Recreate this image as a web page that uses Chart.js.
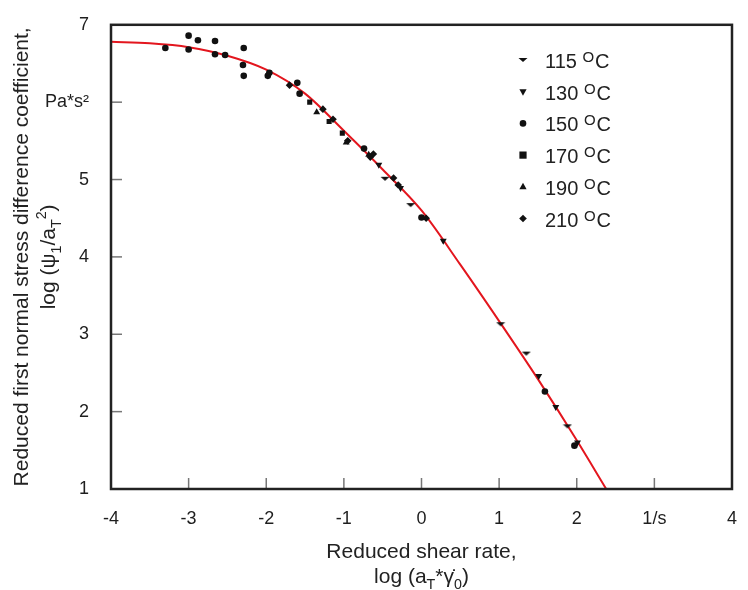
<!DOCTYPE html>
<html>
<head>
<meta charset="utf-8">
<script src="https://cdn.jsdelivr.net/npm/chart.js@4/dist/chart.umd.min.js"></script>
<style>
  html, body { margin: 0; padding: 0; background: #fff; }
  #wrap { width: 748px; height: 590px; }
</style>
</head>
<body>
<div id="wrap"><canvas id="chart"></canvas></div>
<script>
// --- data ---
const temps = ["115", "130", "150", "170", "190", "210"];

const x115 = [-0.47, -0.14, 1.02, 1.35, 1.88];
const y115 = [5.01, 4.67, 3.13, 2.75, 1.81];

const x130 = [-0.55, -0.27, 0.28, 1.51, 1.73, 2.01];
const y130 = [5.19, 4.89, 4.21, 2.46, 2.06, 1.60];

const x150 = [-3.30, -3.00, -3.00, -2.88, -2.66, -2.66, -2.53, -2.29, -2.30, -2.29, -1.98, -1.96, -1.60, -1.57, -0.74, 0.00, 1.59, 1.97];
const y150 = [6.70, 6.86, 6.68, 6.80, 6.79, 6.62, 6.61, 6.70, 6.48, 6.34, 6.34, 6.38, 6.25, 6.11, 5.40, 4.51, 2.26, 1.56];

const x170 = [-1.44, -1.19, -1.02];
const y170 = [6.00, 5.75, 5.60];

const x190 = [-1.35, -0.97, -0.68];
const y190 = [5.87, 5.48, 5.32];

const x210 = [-1.70, -1.27, -1.14, -0.95, -0.66, -0.62, -0.36, -0.30, 0.06];
const y210 = [6.22, 5.91, 5.78, 5.50, 5.29, 5.33, 5.02, 4.93, 4.50];

// fitted master curve
const xFit = [-4, -3.5, -3, -2.5, -2, -1.5, -1, -0.5, 0, 0.5, 1, 1.5, 2, 2.38];
const yFit = [6.78, 6.76, 6.71, 6.60, 6.42, 6.11, 5.63, 5.13, 4.60, 3.90, 3.17, 2.42, 1.63, 1.0];

const xTicks = [-4, -3, -2, -1, 0, 1, 2, 3, 4];
const xTickText = ["-4", "-3", "-2", "-1", "0", "1", "2", "1/s", "4"];
const yTicks = [1, 2, 3, 4, 5, 6, 7];
const yTickText = ["1", "2", "3", "4", "5", "Pa*s²", "7"];

const FONT = '"Liberation Sans", Arial, sans-serif';
const INK = "#1e1e1e";

// flat down-pointing marker used for 115 oC
function flatTri() {
  const c = document.createElement("canvas");
  c.width = 10; c.height = 6;
  const g = c.getContext("2d");
  g.fillStyle = "#111";
  g.beginPath();
  g.moveTo(0.5, 1); g.lineTo(9.5, 1); g.lineTo(5, 5); g.closePath();
  g.fill();
  return c;
}
const marker115 = flatTri();

const styles = [
  { pointStyle: marker115, rotation: 0, radius: 4 },
  { pointStyle: "triangle", rotation: 180, radius: 4 },
  { pointStyle: "circle", rotation: 0, radius: 3.3 },
  { pointStyle: "rect", rotation: 0, radius: 3.6 },
  { pointStyle: "triangle", rotation: 0, radius: 4 },
  { pointStyle: "rectRot", rotation: 0, radius: 3.8 }
];

function pts(xs, ys) {
  return xs.map((x, i) => ({ x: x, y: ys[i] }));
}

const seriesX = [x115, x130, x150, x170, x190, x210];
const seriesY = [y115, y130, y150, y170, y190, y210];

const datasets = temps.map((t, i) => ({
  label: t + " oC",
  data: pts(seriesX[i], seriesY[i]),
  pointStyle: styles[i].pointStyle,
  rotation: styles[i].rotation,
  pointRadius: styles[i].radius,
  backgroundColor: "#111",
  borderColor: "#111",
  borderWidth: 0,
  showLine: false,
  order: 1
}));

datasets.push({
  label: "fit",
  data: pts(xFit, yFit),
  showLine: true,
  borderColor: "#e3161e",
  borderWidth: 2,
  pointRadius: 0,
  cubicInterpolationMode: "monotone",
  order: 2
});

// draw text made of runs, with sub/superscripts
function richText(ctx, runs, x, y, size, align) {
  const widths = runs.map(r => {
    ctx.font = (r.sub || r.sup ? size * 0.68 : size) + "px " + FONT;
    return ctx.measureText(r.t).width;
  });
  const total = widths.reduce((a, b) => a + b, 0);
  let cx = align === "center" ? x - total / 2 : x;
  ctx.textBaseline = "alphabetic";
  ctx.textAlign = "left";
  runs.forEach((r, i) => {
    ctx.font = (r.sub || r.sup ? size * 0.68 : size) + "px " + FONT;
    let dy = 0;
    if (r.sub) dy = size * 0.28;
    if (r.sup) dy = -size * 0.42;
    ctx.fillText(r.t, cx, y + dy);
    cx += widths[i];
  });
}

function drawMarker(ctx, i, x, y) {
  ctx.save();
  ctx.fillStyle = "#111";
  ctx.translate(x, y);
  const s = styles[i];
  if (i === 0) {
    ctx.drawImage(marker115, -5, -3);
  } else if (s.pointStyle === "circle") {
    ctx.beginPath(); ctx.arc(0, 0, s.radius, 0, Math.PI * 2); ctx.fill();
  } else if (s.pointStyle === "rect") {
    ctx.fillRect(-s.radius, -s.radius, s.radius * 2, s.radius * 2);
  } else if (s.pointStyle === "rectRot") {
    ctx.beginPath();
    ctx.moveTo(0, -s.radius); ctx.lineTo(s.radius, 0); ctx.lineTo(0, s.radius); ctx.lineTo(-s.radius, 0);
    ctx.closePath(); ctx.fill();
  } else {
    const r = s.radius;
    ctx.rotate(s.rotation * Math.PI / 180);
    ctx.beginPath();
    ctx.moveTo(0, -r); ctx.lineTo(r * 0.9, r * 0.6); ctx.lineTo(-r * 0.9, r * 0.6);
    ctx.closePath(); ctx.fill();
  }
  ctx.restore();
}

const decor = {
  id: "decor",
  afterDraw(chart) {
    const { ctx, chartArea: a, scales } = chart;
    ctx.save();

    // inward tick marks
    ctx.strokeStyle = "#777";
    ctx.lineWidth = 1.5;
    xTicks.slice(1, -1).forEach(v => {
      const px = scales.x.getPixelForValue(v);
      ctx.beginPath(); ctx.moveTo(px, a.bottom); ctx.lineTo(px, a.bottom - 11); ctx.stroke();
    });
    yTicks.slice(1, -1).forEach(v => {
      const py = scales.y.getPixelForValue(v);
      ctx.beginPath(); ctx.moveTo(a.left, py); ctx.lineTo(a.left + 11, py); ctx.stroke();
    });

    // frame
    ctx.strokeStyle = "#222";
    ctx.lineWidth = 2.5;
    ctx.strokeRect(a.left, a.top, a.right - a.left, a.bottom - a.top);

    // legend
    ctx.fillStyle = "#222";
    temps.forEach((t, i) => {
      const ly = 60 + i * 31.7;
      drawMarker(ctx, i, 523, ly);
      ctx.font = "20px " + FONT;
      ctx.textAlign = "left";
      ctx.textBaseline = "alphabetic";
      const base = ly + 8;
      ctx.fillText(t, 545, base);
      let w = ctx.measureText(t + " ").width;
      ctx.font = "15px " + FONT;
      ctx.fillText("O", 545 + w, base - 6);
      w += ctx.measureText("O").width + 1;
      ctx.font = "20px " + FONT;
      ctx.fillText("C", 545 + w, base);
    });

    // x axis title
    const cx = (a.left + a.right) / 2;
    ctx.font = "21px " + FONT;
    ctx.textAlign = "center";
    ctx.fillText("Reduced shear rate,", cx, 558);
    richText(ctx, [
      { t: "log (a" },
      { t: "T", sub: true },
      { t: "*" },
      { t: "\u03B3\u0307" },
      { t: "0", sub: true },
      { t: ")" }
    ], cx, 583, 21, "center");

    // y axis title
    ctx.translate(0, (a.top + a.bottom) / 2);
    ctx.rotate(-Math.PI / 2);
    ctx.font = "21px " + FONT;
    ctx.textAlign = "center";
    ctx.fillText("Reduced first normal stress difference coefficient,", 0, 28);
    richText(ctx, [
      { t: "log (\u03C8" },
      { t: "1", sub: true },
      { t: "/a" },
      { t: "T", sub: true },
      { t: "2", sup: true },
      { t: ")" }
    ], 0, 55, 21, "center");

    ctx.restore();
  }
};

new Chart(document.getElementById("chart"), {
  type: "scatter",
  data: { datasets: datasets },
  options: {
    responsive: true,
    maintainAspectRatio: false,
    animation: false,
    layout: { padding: { left: 0, top: 17, right: 5, bottom: 0 } },
    plugins: {
      legend: { display: false },
      tooltip: { enabled: false }
    },
    scales: {
      x: {
        type: "linear",
        min: -4,
        max: 4,
        grid: { display: false },
        border: { display: false },
        afterBuildTicks: s => { s.ticks = xTicks.map(v => ({ value: v })); },
        afterFit: s => { s.height = 101; },
        ticks: {
          maxRotation: 0,
          autoSkip: false,
          padding: 11,
          color: INK,
          font: { family: FONT, size: 18 },
          callback: v => xTickText[xTicks.indexOf(v)]
        }
      },
      y: {
        type: "linear",
        min: 1,
        max: 7,
        grid: { display: false },
        border: { display: false },
        afterBuildTicks: s => { s.ticks = yTicks.map(v => ({ value: v })); },
        afterFit: s => { s.width = 111; },
        ticks: {
          autoSkip: false,
          padding: 14,
          color: INK,
          font: { family: FONT, size: 18 },
          callback: v => yTickText[yTicks.indexOf(v)]
        }
      }
    }
  },
  plugins: [decor]
});
</script>
</body>
</html>
